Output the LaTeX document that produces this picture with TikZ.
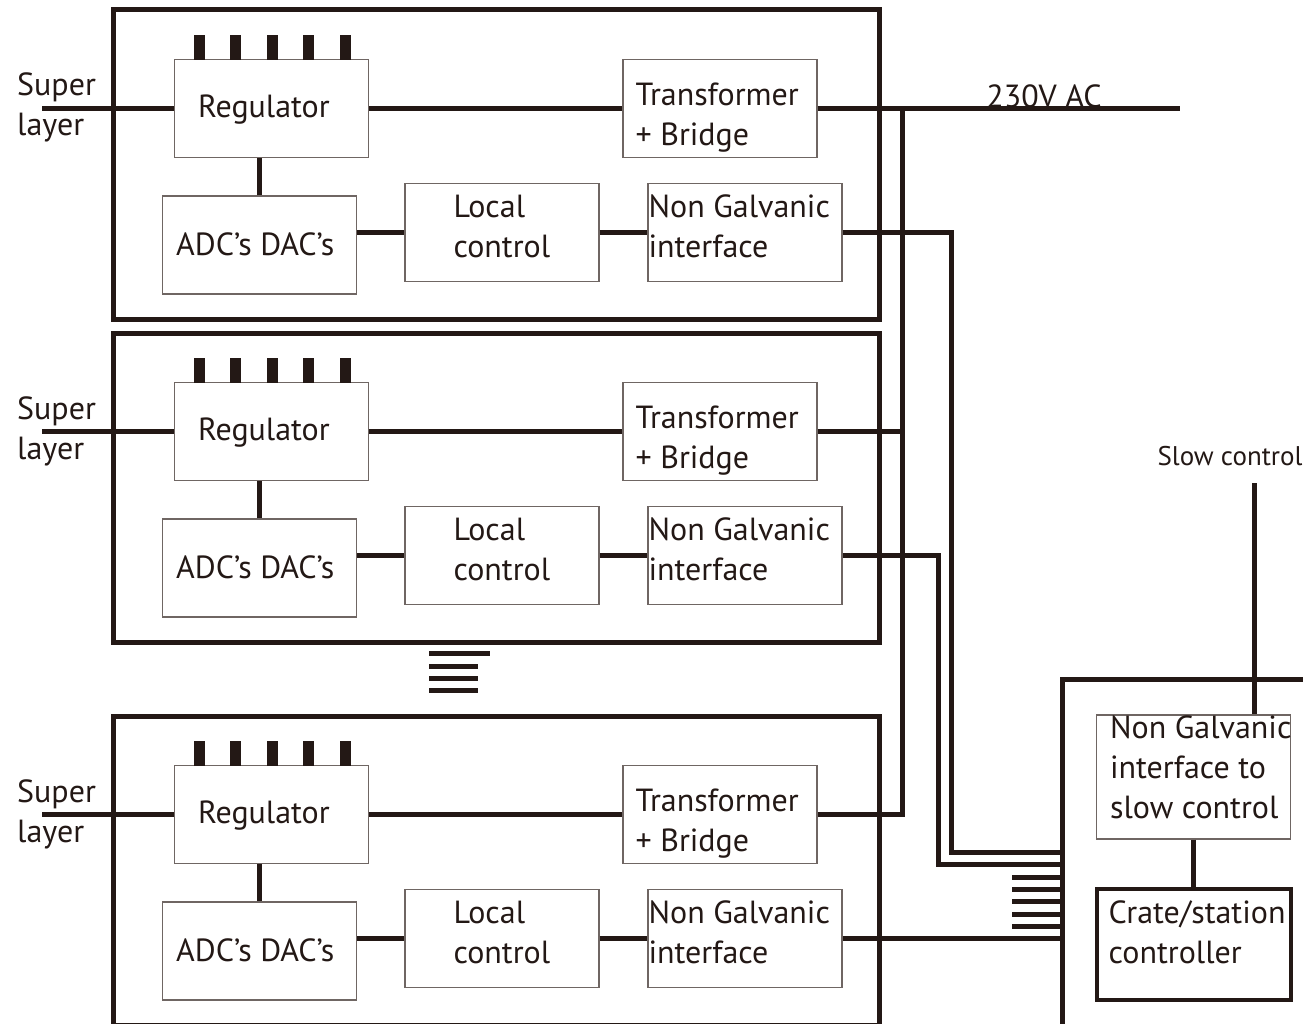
\documentclass[tikz,border=0pt]{standalone}
\usepackage{fontspec}
\setmainfont{PT Sans}
\definecolor{ink}{HTML}{231815}
\definecolor{edge}{HTML}{6F6663}

\begin{document}
\begin{tikzpicture}[x=1pt, y=-1pt, font=\fontsize{32}{40}\selectfont, text=ink]
    % Node styles
    \tikzset{
      box/.style={draw=edge, line width=1.2pt, minimum width=194pt, minimum height=98pt, inner sep=0pt},
      module/.style={draw=ink, line width=5pt, minimum width=766pt, minimum height=309pt, inner sep=0pt},
      wire/.style={draw=ink, line width=5pt},
      txt/.style={inner sep=0pt, align=left},
      tl/.style 2 args={txt, anchor=base west, xshift=#1, yshift=#2}
    }
    \useasboundingbox (0,0) rectangle (1303,1024);
    \clip (0,0) rectangle (1303,1024);

    % Module 1
    \node[module] (mod1) at (496,164.5) {};
    \node[box, label={[tl={24pt}{-59pt}]north west:Regulator}] (reg1) at (271.5,108.5) {};
    \node[box, label={[tl={13pt}{-87pt}]north west:{Transformer\\+ Bridge}}] (tb1) at (720,108.5) {};
    \node[box, label={[tl={14pt}{-60pt}]north west:ADC’s DAC’s}] (adc1) at (259.5,245) {};
    \node[box, label={[tl={49pt}{-75pt}]north west:{Local\\control}}] (lc1) at (502,232.5) {};
    \node[box, label={[tl={1pt}{-75pt}]north west:{Non Galvanic\\interface}}] (ngi1) at (745,232.5) {};
    \foreach \px in {199,235,272,308,345}
      \fill[ink] (\px-5.5,35) rectangle (\px+5.5,60);
    \node[txt, anchor=base west] (sl1) at (17,136) {Super\\layer};
    \coordinate (in1) at (42,108.5);

    % Wires of module 1
    \draw[wire] (in1) -- (reg1.west);
    \draw[wire] (reg1.east) -- (tb1.west);
    \draw[wire] (adc1.north) -- (adc1.north |- reg1.south);
    \draw[wire] (lc1.west -| adc1.east) -- (lc1.west);
    \draw[wire] (lc1.east) -- (ngi1.west);

    % Module 2
    \node[module] (mod2) at (496,487.5) {};
    \node[box, label={[tl={24pt}{-59pt}]north west:Regulator}] (reg2) at (271.5,431.5) {};
    \node[box, label={[tl={13pt}{-87pt}]north west:{Transformer\\+ Bridge}}] (tb2) at (720,431.5) {};
    \node[box, label={[tl={14pt}{-60pt}]north west:ADC’s DAC’s}] (adc2) at (259.5,568) {};
    \node[box, label={[tl={49pt}{-75pt}]north west:{Local\\control}}] (lc2) at (502,555.5) {};
    \node[box, label={[tl={1pt}{-75pt}]north west:{Non Galvanic\\interface}}] (ngi2) at (745,555.5) {};
    \foreach \px in {199,235,272,308,345}
      \fill[ink] (\px-5.5,358) rectangle (\px+5.5,383);
    \node[txt, anchor=base west] (sl2) at (17,459) {Super\\layer};
    \coordinate (in2) at (42,431.5);

    % Wires of module 2
    \draw[wire] (in2) -- (reg2.west);
    \draw[wire] (reg2.east) -- (tb2.west);
    \draw[wire] (adc2.north) -- (adc2.north |- reg2.south);
    \draw[wire] (lc2.west -| adc2.east) -- (lc2.west);
    \draw[wire] (lc2.east) -- (ngi2.west);

    % More modules
    \draw[wire] (429,653) -- (490,653);
    \foreach \ly in {666,678,690}
      \draw[wire] (429,\ly) -- (478,\ly);

    % Module 3
    \node[module] (mod3) at (496,870.5) {};
    \node[box, label={[tl={24pt}{-59pt}]north west:Regulator}] (reg3) at (271.5,814.5) {};
    \node[box, label={[tl={13pt}{-87pt}]north west:{Transformer\\+ Bridge}}] (tb3) at (720,814.5) {};
    \node[box, label={[tl={14pt}{-60pt}]north west:ADC’s DAC’s}] (adc3) at (259.5,951) {};
    \node[box, label={[tl={49pt}{-75pt}]north west:{Local\\control}}] (lc3) at (502,938.5) {};
    \node[box, label={[tl={1pt}{-75pt}]north west:{Non Galvanic\\interface}}] (ngi3) at (745,938.5) {};
    \foreach \px in {199,235,272,308,345}
      \fill[ink] (\px-5.5,741) rectangle (\px+5.5,766);
    \node[txt, anchor=base west] (sl3) at (17,842) {Super\\layer};
    \coordinate (in3) at (42,814.5);

    % Wires of module 3
    \draw[wire] (in3) -- (reg3.west);
    \draw[wire] (reg3.east) -- (tb3.west);
    \draw[wire] (adc3.north) -- (adc3.north |- reg3.south);
    \draw[wire] (lc3.west -| adc3.east) -- (lc3.west);
    \draw[wire] (lc3.east) -- (ngi3.west);

    % 230V AC bus
    \coordinate (ac) at (1180,108.5);
    \coordinate (bus) at (902,814.5);
    \draw[wire] (tb1.east) -- (ac);
    \node[txt, anchor=base] (aclabel) at (1044,108) {230V AC};
    \draw[wire] (tb1.east -| bus) -- (bus) -- (tb3.east);
    \draw[wire] (tb2.east) -- (tb2.east -| bus);

    % Crate / station
    \coordinate (cr) at (1062,679);
    \draw[wire] (1310,679) -- (cr) -- (1062,1030);
    \node[box, minimum height=124pt, label={[tl={14pt}{-104pt}]north west:{Non Galvanic\\interface to\\slow control}}] (ngs) at (1193.5,777) {};
    \node[box, draw=ink, line width=4pt, minimum height=111pt, label={[tl={14pt}{-76pt}]north west:{Crate/station\\controller}}] (ctrl) at (1193.5,944.5) {};
    \draw[wire] (ngs.south) -- (ngs.south |- ctrl.north);
    \coordinate (sc) at (1254,483);
    \node[txt, anchor=base, font=\fontsize{27}{30}\selectfont] (sclabel) at (1230,465) {Slow control};
    \draw[wire] (sc) -- (sc |- ngs.north);

    % Signal lines to the crate
    \coordinate (s1) at (951,852);
    \coordinate (s2) at (938,864);
    \draw[wire] (ngi1.east) -| (s1) -- (s1 -| cr);
    \draw[wire] (ngi2.east) -| (s2) -- (s2 -| cr);
    \draw[wire] (ngi3.east) -- (ngi3.east -| cr);
    \foreach \ly in {877,889,901,914,926}
      \draw[wire] (1012,\ly) -- (1062,\ly);
\end{tikzpicture}
\end{document}
